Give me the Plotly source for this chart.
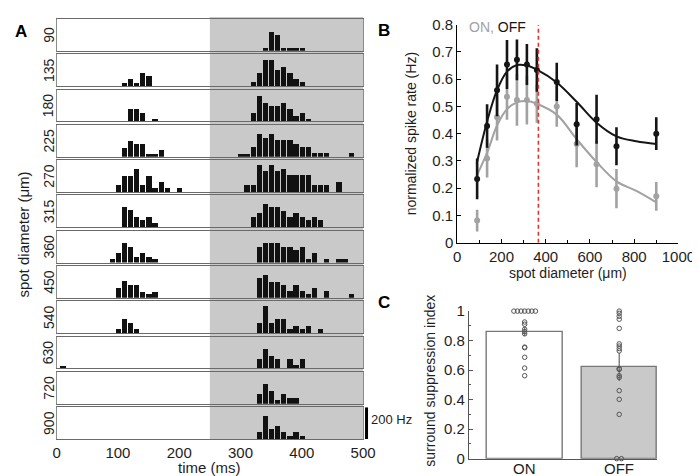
import plotly.graph_objects as go

FONT = "Liberation Sans, Arial, sans-serif"
W, H = 700, 476
TXT = "#1e1e1e"

# ---------------- Panel A: PSTHs (10 ms bins, rate in Hz) ----------------
diameters = [90, 135, 180, 225, 270, 315, 360, 450, 540, 630, 720, 900]

t_90 = [340, 350, 360, 370, 380, 390, 400]
r_90 = [17, 121, 100, 17, 17, 17, 17]

t_135 = [110, 120, 130, 140, 150, 320, 330, 340, 350, 360, 370, 380, 390, 400]
r_135 = [19, 40, 19, 83, 62, 21, 83, 164, 164, 100, 121, 79, 40, 21]

t_180 = [120, 130, 140, 160, 320, 330, 340, 350, 360, 370, 380, 390, 400, 410]
r_180 = [78, 78, 57, 19, 57, 164, 121, 100, 100, 121, 79, 36, 57, 19]

t_225 = [110, 120, 130, 140, 150, 160, 170,
         300, 310, 320, 330, 340, 350, 360, 370, 380, 390, 400, 410, 420, 430, 440, 480]
r_225 = [57, 100, 79, 79, 19, 19, 40,
         19, 19, 62, 142, 121, 142, 104, 104, 104, 83, 62, 62, 21, 21, 21, 21]

t_270 = [100, 110, 120, 130, 140, 150, 160, 170, 180, 200,
         310, 320, 330, 340, 350, 360, 370, 380, 390, 400, 410, 420, 430, 440, 460]
r_270 = [43, 102, 102, 145, 43, 102, 21, 64, 21, 21,
         43, 43, 167, 129, 167, 129, 146, 103, 103, 103, 103, 43, 43, 43, 64]

t_315 = [110, 120, 130, 140, 150, 160,
         320, 330, 340, 350, 360, 370, 380, 390, 400, 410, 420, 430]
r_315 = [122, 105, 63, 42, 63, 21,
         63, 84, 143, 122, 122, 101, 63, 84, 63, 42, 63, 42]

t_360 = [90, 100, 110, 120, 130, 140, 150, 160,
         330, 340, 350, 360, 370, 380, 390, 400, 410, 420, 440, 460, 470]
r_360 = [22, 60, 125, 99, 39, 60, 39, 22,
         102, 123, 123, 123, 102, 102, 81, 102, 21, 64, 21, 21, 21]

t_450 = [100, 110, 120, 130, 140, 150, 160,
         330, 340, 350, 360, 370, 380, 390, 400, 410, 420, 440, 480]
r_450 = [60, 103, 82, 82, 39, 22, 39,
         122, 143, 101, 101, 80, 42, 80, 42, 21, 63, 42, 21]

t_540 = [100, 110, 120, 130, 330, 340, 350, 360, 370, 380, 390, 400, 410, 430]
r_540 = [21, 85, 64, 21, 64, 166, 64, 85, 85, 21, 43, 21, 43, 21]

t_630 = [10, 330, 340, 350, 360, 380, 390, 400]
r_630 = [17, 59, 122, 80, 59, 59, 21, 59]

t_720 = [330, 340, 350, 360, 370, 380, 390]
r_720 = [59, 122, 80, 21, 59, 38, 38]

t_900 = [330, 340, 350, 360, 370, 380, 390, 400]
r_900 = [40, 141, 61, 80, 40, 19, 40, 19]

psth_t = [t_90, t_135, t_180, t_225, t_270, t_315, t_360, t_450, t_540, t_630, t_720, t_900]
psth_r = [r_90, r_135, r_180, r_225, r_270, r_315, r_360, r_450, r_540, r_630, r_720, r_900]
time_ticks = [0, 100, 200, 300, 400, 500]
stim_off_window = [250, 500]
scale_bar_hz = 200

# ---------------- Panel B: area-response curves ----------------
spot_um = [90, 135, 180, 225, 270, 315, 360, 450, 540, 630, 720, 900]
off_rate = [0.234, 0.428, 0.559, 0.654, 0.671, 0.654, 0.634, 0.590, 0.435, 0.453, 0.354, 0.400]
off_err = [0.075, 0.08, 0.095, 0.09, 0.075, 0.075, 0.08, 0.07, 0.078, 0.09, 0.07, 0.06]
on_rate = [0.081, 0.309, 0.46, 0.536, 0.524, 0.524, 0.51, 0.50, 0.362, 0.288, 0.198, 0.17]
on_err = [0.04, 0.07, 0.085, 0.085, 0.095, 0.09, 0.07, 0.075, 0.085, 0.085, 0.072, 0.053]

fit_x = [88, 135, 180, 225, 270, 315, 360, 450, 540, 630, 720, 810, 900]
off_fit = [0.29, 0.445, 0.56, 0.628, 0.652, 0.65, 0.635, 0.588, 0.517, 0.44, 0.39, 0.372, 0.362]
on_fit = [0.245, 0.33, 0.43, 0.49, 0.515, 0.52, 0.51, 0.47, 0.38, 0.296, 0.225, 0.19, 0.148]
rf_diameter = 367

# ---------------- Panel C: surround suppression index ----------------
ssi_groups = ["ON", "OFF"]
ssi_mean = [0.861, 0.621]
ssi_sem = [0.03, 0.095]
on_ssi = [1, 1, 1, 1, 1, 1, 1, 0.926, 0.911, 0.877, 0.861, 0.846, 0.756, 0.752, 0.687, 0.614, 0.562]
on_jit = [-0.114, -0.076, -0.038, 0, 0.038, 0.076, 0.114, 0, 0, 0, 0, 0, 0, 0, 0, 0, 0]
off_ssi = [1.0, 0.985, 0.965, 0.945, 0.883, 0.778, 0.763, 0.746, 0.73, 0.61, 0.605, 0.562,
           0.55, 0.461, 0.402, 0.30, 0.0, 0.0]
off_jit = [0, 0, 0, 0, 0, 0, 0, 0, 0, 0, 0, 0, 0, 0, 0, 0, -0.027, 0.023]


def px_x(p):
    return p / W


def px_y(p):
    return 1 - p / H


fig = go.Figure()
layout = dict(
    width=W, height=H, margin=dict(l=0, r=0, t=0, b=0),
    paper_bgcolor="white", plot_bgcolor="rgba(0,0,0,0)",
    showlegend=False, font=dict(family=FONT, size=14, color=TXT),
    bargap=0,
)
annotations = []
shapes = []

A_LEFT, A_RIGHT = 46, 362
ROW_TOP0, ROW_PITCH, ROW_H = 2, 36.6, 33
n = len(diameters)
for i in range(n):
    k = i + 1
    xa = "x" if k == 1 else f"x{k}"
    ya = "y" if k == 1 else f"y{k}"
    top = ROW_TOP0 + i * ROW_PITCH
    bot = top + ROW_H
    fig.add_trace(go.Bar(x=psth_t[i], y=psth_r[i], width=8.6,
                         marker=dict(color="#111111", line=dict(width=0)),
                         xaxis=xa, yaxis=ya))
    last = (i == n - 1)
    layout[f"xaxis{'' if k == 1 else k}"] = dict(
        domain=[px_x(A_LEFT), px_x(A_RIGHT)], anchor=ya, range=[0, 500],
        showline=True, mirror=True, linecolor="#6a6a6a", linewidth=1.2,
        showgrid=False, zeroline=False, ticks="",
        showticklabels=last, tickvals=time_ticks if last else None,
        tickfont=dict(size=15, color=TXT),
    )
    layout[f"yaxis{'' if k == 1 else k}"] = dict(
        domain=[px_y(bot), px_y(top)], anchor=xa, range=[0, 200],
        showline=True, mirror=True, linecolor="#8c8c8c", linewidth=1,
        showgrid=False, zeroline=False, showticklabels=False, ticks="",
    )
    annotations.append(dict(text=str(diameters[i]), textangle=-90,
                            xref="paper", x=px_x(38), xanchor="center",
                            yref=f"{ya} domain", y=0.5, yanchor="middle",
                            showarrow=False, font=dict(size=14, color=TXT)))

A_BOTTOM = ROW_TOP0 + (n - 1) * ROW_PITCH + ROW_H
shapes.append(dict(type="rect", xref="x", yref="paper",
                   x0=stim_off_window[0], x1=stim_off_window[1],
                   y0=px_y(A_BOTTOM), y1=1, fillcolor="#c9c9c9",
                   line=dict(width=0), layer="below"))
# scale bar
shapes.append(dict(type="line", xref="paper", yref=f"y{n}",
                   x0=px_x(365.5), x1=px_x(365.5), y0=0, y1=scale_bar_hz,
                   line=dict(color="black", width=3)))
annotations.append(dict(text=f"{scale_bar_hz} Hz", xref="paper", x=px_x(368.5), xanchor="left",
                        yref=f"y{n}", y=scale_bar_hz / 2 + 20, yanchor="middle",
                        showarrow=False, font=dict(size=13, color=TXT)))
annotations.append(dict(text="time (ms)", xref="paper", x=px_x(204), xanchor="center",
                        yref="paper", y=px_y(467), yanchor="middle",
                        showarrow=False, font=dict(size=15, color=TXT)))
annotations.append(dict(text="spot diameter (μm)", textangle=-90, xref="paper", x=px_x(12),
                        xanchor="center", yref="paper", y=px_y(226), yanchor="middle",
                        showarrow=False, font=dict(size=15, color=TXT)))

# ---------------- Panel B ----------------
kb = n + 1
xb, yb = f"x{kb}", f"y{kb}"
GRAY, BLACK = "#a2a2a2", "#151515"
fig.add_trace(go.Scatter(x=spot_um, y=on_rate, mode="markers",
                         marker=dict(color=GRAY, size=6),
                         error_y=dict(type="data", array=on_err, color=GRAY, thickness=2.6, width=0),
                         xaxis=xb, yaxis=yb, cliponaxis=False))
fig.add_trace(go.Scatter(x=fit_x, y=on_fit, mode="lines", line=dict(color=GRAY, width=2, shape="spline"),
                         xaxis=xb, yaxis=yb))
fig.add_trace(go.Scatter(x=spot_um, y=off_rate, mode="markers",
                         marker=dict(color=BLACK, size=6),
                         error_y=dict(type="data", array=off_err, color=BLACK, thickness=2.6, width=0),
                         xaxis=xb, yaxis=yb, cliponaxis=False))
fig.add_trace(go.Scatter(x=fit_x, y=off_fit, mode="lines", line=dict(color=BLACK, width=2, shape="spline"),
                         xaxis=xb, yaxis=yb))
layout[f"xaxis{kb}"] = dict(
    domain=[px_x(459), px_x(687)], anchor=yb, range=[0, 1000],
    showline=True, linecolor="black", linewidth=1, showgrid=False, zeroline=False,
    ticks="inside", ticklen=4, tickcolor="black", tickvals=[0, 200, 400, 600, 800, 1000],
    minor=dict(ticks="inside", ticklen=2.5, tickcolor="black", dtick=100, tick0=0),
    tickfont=dict(size=15, color=TXT),
)
layout[f"yaxis{kb}"] = dict(
    domain=[px_y(234), px_y(8)], anchor=xb, range=[0, 0.8],
    showline=True, linecolor="black", linewidth=1, showgrid=False, zeroline=False,
    ticks="inside", ticklen=4, tickcolor="black",
    tickvals=[0, 0.1, 0.2, 0.3, 0.4, 0.5, 0.6, 0.7, 0.8],
    ticktext=["0", "0.1", "0.2", "0.3", "0.4", "0.5", "0.6", "0.7", "0.8"],
    tickfont=dict(size=15, color=TXT),
)
shapes.append(dict(type="line", xref=xb, yref=yb, x0=rf_diameter, x1=rf_diameter, y0=0, y1=0.8,
                   line=dict(color="#e2332f", width=1.6, dash="4px,3px")))
annotations.append(dict(text="normalized spike rate (Hz)", textangle=-90, xref="paper", x=px_x(411),
                        xanchor="center", yref="paper", y=px_y(121), yanchor="middle",
                        showarrow=False, font=dict(size=14, color=TXT)))
annotations.append(dict(text="spot diameter (μm)", xref="paper", x=px_x(573), xanchor="center",
                        yref="paper", y=px_y(265), yanchor="middle",
                        showarrow=False, font=dict(size=14, color=TXT)))
annotations.append(dict(text=f"<span style='color:{GRAY}'>ON,</span> <span style='color:{BLACK}'>OFF</span>",
                        xref="paper", x=px_x(469), xanchor="left",
                        yref="paper", y=px_y(10), yanchor="middle",
                        showarrow=False, font=dict(size=14)))

# ---------------- Panel C ----------------
kc = n + 2
xc, yc = f"x{kc}", f"y{kc}"
fig.add_trace(go.Bar(x=[0, 1], y=ssi_mean, width=0.8,
                     marker=dict(color=["white", "#c9c9c9"], line=dict(color="#777777", width=1.4)),
                     error_y=dict(type="data", array=ssi_sem, color="#666666", thickness=1.2, width=0),
                     xaxis=xc, yaxis=yc))
fig.add_trace(go.Scatter(x=[j for j in on_jit], y=on_ssi, mode="markers",
                         marker=dict(symbol="circle-open", size=4.5, color="#555555", line=dict(width=1)),
                         xaxis=xc, yaxis=yc, cliponaxis=False))
fig.add_trace(go.Scatter(x=[1 + j for j in off_jit], y=off_ssi, mode="markers",
                         marker=dict(symbol="circle-open", size=4.5, color="#555555", line=dict(width=1)),
                         xaxis=xc, yaxis=yc, cliponaxis=False))
layout[f"xaxis{kc}"] = dict(
    domain=[px_x(471), px_x(665)], anchor=yc, range=[-0.59, 1.4],
    showline=True, linecolor="#555555", linewidth=1, showgrid=False, zeroline=False,
    ticks="", tickvals=[0, 1], showticklabels=False,
)
layout[f"yaxis{kc}"] = dict(
    domain=[px_y(458), px_y(305)], anchor=xc, range=[0, 1],
    showline=True, linecolor="#555555", linewidth=1, showgrid=False, zeroline=False,
    ticks="inside", ticklen=4, tickcolor="#555555",
    tickvals=[0, 0.2, 0.4, 0.6, 0.8, 1], ticktext=["0", "0.2", "0.4", "0.6", "0.8", "1"],
    minor=dict(ticks="inside", ticklen=2.5, tickcolor="#555555", dtick=0.1, tick0=0),
    tickfont=dict(size=15, color=TXT),
)
for gi, g in enumerate(ssi_groups):
    annotations.append(dict(text=g, xref=xc, x=gi, xanchor="center",
                            yref="paper", y=px_y(468), yanchor="middle",
                            showarrow=False, font=dict(size=15, color=TXT)))
annotations.append(dict(text="surround suppression index", textangle=-90, xref="paper", x=px_x(430),
                        xanchor="center", yref="paper", y=px_y(377), yanchor="middle",
                        showarrow=False, font=dict(size=14, color=TXT)))

# panel letters
for letter, lx, ly in [("A", 9, 15), ("B", 383, 14), ("C", 384, 296)]:
    annotations.append(dict(text=f"<b>{letter}</b>", xref="paper", x=px_x(lx), xanchor="center",
                            yref="paper", y=px_y(ly), yanchor="middle", showarrow=False,
                            font=dict(size=17, color="black")))

layout["annotations"] = annotations
layout["shapes"] = shapes
fig.update_layout(**layout)
fig.write_html("out.html")
